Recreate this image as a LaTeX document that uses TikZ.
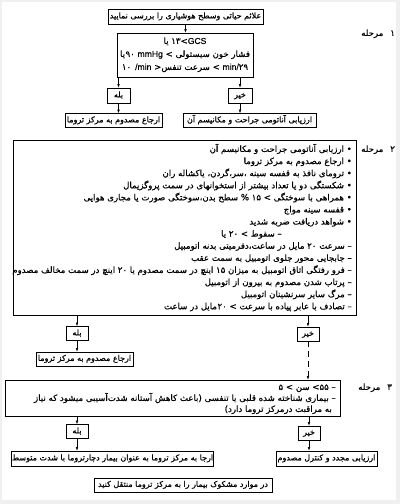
\documentclass[tikz,border=0pt]{standalone}
\usepackage{fontspec}
\usetikzlibrary{arrows.meta}
\TeXXeTstate=1
\newfontfamily\arf[Script=Arabic,FakeBold=0.5]{DejaVu Sans}
\newfontfamily\latf[FakeBold=0.3]{Liberation Sans}
\newcommand\myfs{\fontsize{8}{9}\selectfont}
\newcommand\bigfs{\fontsize{8.6}{10}\selectfont}
\newcommand\rtxt[1]{\beginR#1\endR}
\newcommand\ltxt[1]{\beginL#1\endL{}}
\begin{document}
\begin{tikzpicture}[x=1pt,y=-1pt,
  box/.style 2 args={draw, line width=0.7pt, inner sep=0pt, minimum width=#1pt, minimum height=#2pt, font=\myfs\arf, text height=6pt, text depth=2.2pt},
  frame/.style 2 args={draw, line width=0.7pt, inner sep=0pt, minimum width=#1pt, minimum height=#2pt},
  ln/.style={inner sep=0pt, font=\bigfs\arf, text height=6.3pt, text depth=2.4pt},
  arr/.style={-{Latex[length=3.5pt,width=2.6pt]}, line width=0.5pt},
  dsh/.style={dash pattern=on 6pt off 4pt}]
\useasboundingbox (0,0) rectangle (400,504);
\fill[gray!12] (0,0) rectangle (400,504);
\fill[white] (2,2) rectangle (396,500);
% stage 1
\node[box={155}{15}] (n1) at (185.5,16.5) {\rtxt{علائم حیاتی وسطح هوشیاری را بررسی نمایید}};
\node[frame={136}{44}] (n2) at (185,55) {};
\node[ln] (b1) at (185,42) {\rtxt{\ltxt{۱۳\kern0pt>{\latf GCS}} یا}};
\node[ln] (b2) at (185,55) {\rtxt{فشار خون سیستولی \ltxt{>} \ltxt{{\latf mmHg}} ۹۰\kern0.5pt یا}};
\node[ln] (b3) at (185,68) {\rtxt{\ltxt{{\latf min/}۲۹} \ltxt{>} سرعت تنفس\ltxt{<} \ltxt{{\latf /min}}\hspace{4pt}۱۰}};
\draw[arr] (n1.south) -- (n1.south |- n2.north);
\node[box={23}{15}] (y1) at (118.5,95.5) {بله};
\node[box={24}{15}] (no1) at (240,95.5) {خیر};
\draw[arr] (y1 |- n2.south) -- (y1.north);
\draw[arr] (no1 |- n2.south) -- (no1.north);
\node[box={97}{14}] (r1) at (113.5,120.5) {\rtxt{ارجاع مصدوم به مرکز تروما}};
\node[box={133}{14}] (r2) at (249.5,120.5) {\rtxt{ارزیابی آناتومی جراحت و مکانیسم آن}};
\draw[arr] (y1.south) -- (y1.south |- r1.north);
\draw[arr] (no1.south) -- (no1.south |- r2.north);
\node[ln, anchor=west] (m1) at (361,34) {مرحله\hspace{7pt}۱};
% stage 2
\node[frame={343}{175}] (s2) at (184.5,227.5) {};
\node[ln, anchor=west] (m2) at (361,150) {مرحله\hspace{7pt}۲};
\node[ln, anchor=east] (l1) at (352,150) {\rtxt{• ارزیابی آناتومی جراحت و مکانیسم آن}};
\node[ln, anchor=east] (l2) at (352,162.1) {\rtxt{• ارجاع مصدوم به مرکز تروما}};
\node[ln, anchor=east] (l3) at (352,174.2) {\rtxt{• ترومای نافذ به قفسه سینه ،سر،گردن، یاکشاله ران}};
\node[ln, anchor=east] (l4) at (352,186.3) {\rtxt{• شکستگی دو یا تعداد بیشتر از استخوانهای در سمت پروگزیمال}};
\node[ln, anchor=east] (l5) at (352,198.4) {\rtxt{• همراهی با سوختگی \ltxt{>} ۱۵ \ltxt{\%} سطح بدن،سوختگی  صورت یا مجاری هوایی}};
\node[ln, anchor=east] (l6) at (352,210.5) {\rtxt{• قفسه سینه مواج}};
\node[ln, anchor=east] (l7) at (352,222.6) {\rtxt{• شواهد دریافت ضربه شدید}};
\node[ln, anchor=east] (l8) at (282,234.7) {\rtxt{– سقوط \ltxt{>} ۲۰ یا}};
\node[ln, anchor=east] (l9) at (352,246.8) {\rtxt{– سرعت ۲۰ مایل در ساعت،دفرمیتی بدنه اتومبیل}};
\node[ln, anchor=east] (l10) at (352,258.9) {\rtxt{– جابجایی محور جلوی اتومبیل به سمت عقب}};
\node[ln, anchor=east] (l11) at (352,271) {\rtxt{– فرو رفتگی اتاق اتومبیل به میزان ۱۵ اینچ در سمت مصدوم یا ۲۰ اینچ در سمت مخالف مصدوم}};
\node[ln, anchor=east] (l12) at (352,283.1) {\rtxt{– پرتاب شدن مصدوم به بیرون از اتومبیل}};
\node[ln, anchor=east] (l13) at (352,295.2) {\rtxt{– مرگ سایر سرنشینان اتومبیل}};
\node[ln, anchor=east] (l14) at (352,307.3) {\rtxt{– تصادف با عابر پیاده با سرعت \ltxt{>} ۲۰\kern0.6pt مایل در ساعت}};
\node[box={22}{14}] (y2) at (77,333.5) {بله};
\node[box={22}{14}] (no2) at (308,334) {خیر};
\draw[arr] (y2 |- s2.south) -- (y2.north);
\draw[arr] (no2 |- s2.south) -- (no2.north);
\node[box={97}{14}] (r3) at (84.5,359) {\rtxt{ارجاع مصدوم به مرکز تروما}};
\draw[arr] (y2.south) -- (y2.south |- r3.north);
% stage 3
\node[frame={335}{36}] (s3) at (172.5,398) {};
\draw[arr, dsh] (no2.south) -- (no2.south |- s3.north);
\node[ln, anchor=west] (m3) at (358,388) {مرحله\hspace{7pt}۳};
\node[ln, anchor=east] (c1) at (336,388) {\rtxt{– ۵۵\ltxt{>} سن \ltxt{>} ۵}};
\node[ln, anchor=east] (c2) at (336,399) {\rtxt{– بیماری شناخته شده قلبی یا تنفسی (باعث کاهش آستانه شدت‌آسیبی  میشود که نیاز}};
\node[ln, anchor=east] (c3) at (332,410) {\rtxt{به مراقبت درمرکز تروما دارد)}};
\node[box={22}{14}] (y3) at (77,431.5) {بله};
\node[box={22}{14}] (no3) at (309,433) {خیر};
\draw[arr] (y3 |- s3.south) -- (y3.north);
\draw[arr] (no3 |- s3.south) -- (no3.north);
\node[box={201}{15}] (r5) at (112.5,458.5) {\rtxt{ارجا به مرکز تروما به عنوان بیمار دچارتروما با شدت متوسط}};
\node[box={101}{15}] (r6) at (326.5,458.5) {\rtxt{ارزیابی مجدد و کنترل مصدوم}};
\draw[arr] (y3.south) -- (y3.south |- r5.north);
\draw[arr] (no3.south) -- (no3.south |- r6.north);
\node[box={178}{14}] (r7) at (183,485) {\rtxt{در موارد مشکوک بیمار را به مرکز تروما منتقل کنید}};
\end{tikzpicture}
\end{document}
